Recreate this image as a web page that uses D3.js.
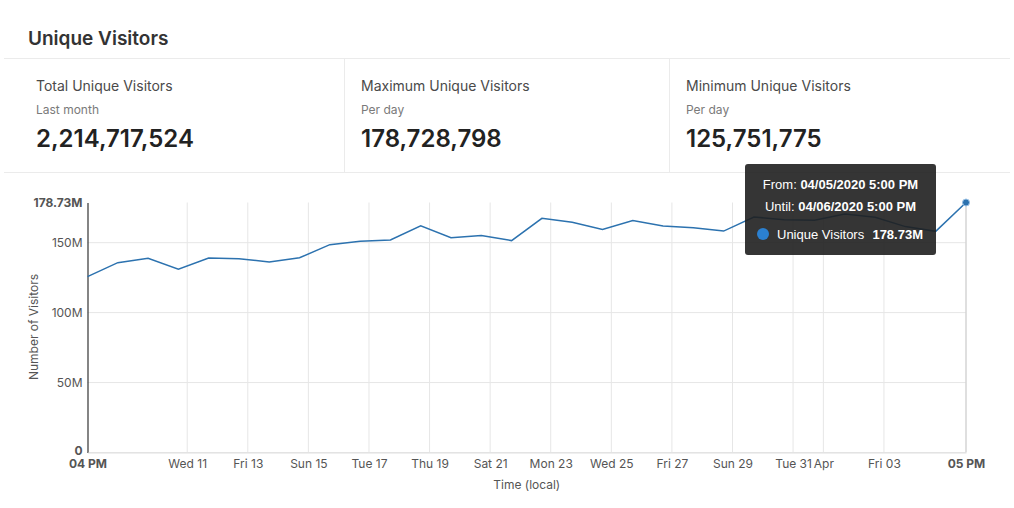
<!DOCTYPE html>
<html>
<head>
<meta charset="utf-8">
<script src="https://cdn.jsdelivr.net/npm/d3@7"></script>
<style>
  body { margin: 0; background: #fff; }
  svg { display: block; font-family: Inter, "Noto Sans", sans-serif; }
</style>
</head>
<body>
<svg></svg>
<script>
// --------------- data
// one bucket per day, each bucket starts at 5 PM local (00:00 UTC)
const days = [
  '2020-03-08', '2020-03-09', '2020-03-10', '2020-03-11', '2020-03-12',
  '2020-03-13', '2020-03-14', '2020-03-15', '2020-03-16', '2020-03-17',
  '2020-03-18', '2020-03-19', '2020-03-20', '2020-03-21', '2020-03-22',
  '2020-03-23', '2020-03-24', '2020-03-25', '2020-03-26', '2020-03-27',
  '2020-03-28', '2020-03-29', '2020-03-30', '2020-03-31', '2020-04-01',
  '2020-04-02', '2020-04-03', '2020-04-04', '2020-04-05', '2020-04-06'
];

// millions of unique visitors
const visitors = [
  125.751775, 135.7, 138.8, 131.1, 139.0, 138.6, 136.2, 139.2, 148.6, 151.1,
  152.0, 162.0, 153.6, 155.1, 151.5, 167.4, 164.6, 159.5, 165.9, 161.9,
  160.7, 158.3, 168.4, 166.4, 166.0, 170.5, 168.2, 161.5, 158.1, 178.728798
];

const tickTimes = [
  '2020-03-08T00:00:00Z', '2020-03-11T07:00:00Z', '2020-03-13T07:00:00Z',
  '2020-03-15T07:00:00Z', '2020-03-17T07:00:00Z', '2020-03-19T07:00:00Z',
  '2020-03-21T07:00:00Z', '2020-03-23T07:00:00Z', '2020-03-25T07:00:00Z',
  '2020-03-27T07:00:00Z', '2020-03-29T07:00:00Z', '2020-03-31T07:00:00Z',
  '2020-04-01T07:00:00Z', '2020-04-03T07:00:00Z', '2020-04-06T00:00:00Z'
];
const tickLabels = [
  '04 PM', 'Wed 11', 'Fri 13', 'Sun 15', 'Tue 17', 'Thu 19', 'Sat 21',
  'Mon 23', 'Wed 25', 'Fri 27', 'Sun 29', 'Tue 31', 'Apr', 'Fri 03', '05 PM'
];

const yTicks = [0, 50, 100, 150, 178.728798];

const statTitles = ['Total Unique Visitors', 'Maximum Unique Visitors', 'Minimum Unique Visitors'];
const statSubtitles = ['Last month', 'Per day', 'Per day'];
const statValues = [2214717524, 178728798, 125751775];

// --------------- setup
const width = 1014;
const height = 508;
const blue = '#2c72af';

const svg = d3.select('svg')
  .attr('width', width)
  .attr('height', height);

// header
svg.append('text')
  .attr('x', 28)
  .attr('y', 45)
  .attr('font-size', 19)
  .attr('font-weight', 600)
  .attr('fill', '#333')
  .text('Unique Visitors');

const statX = [4, 344.5, 669.5];

svg.append('g')
  .selectAll('line')
  .data([58.5, 172.5])
  .enter()
  .append('line')
  .attr('x1', 4)
  .attr('x2', 1010)
  .attr('y1', d => d)
  .attr('y2', d => d)
  .attr('stroke', '#ebebeb');

svg.append('g')
  .selectAll('line')
  .data(statX.slice(1))
  .enter()
  .append('line')
  .attr('x1', d => d)
  .attr('x2', d => d)
  .attr('y1', 58.5)
  .attr('y2', 172.5)
  .attr('stroke', '#ebebeb');

const stats = svg.append('g')
  .selectAll('g')
  .data(statTitles)
  .enter()
  .append('g')
  .attr('transform', (d, i) => 'translate(' + (statX[i] + (i === 0 ? 32 : 16.5)) + ', 0)');

stats.append('text')
  .attr('y', 91)
  .attr('font-size', 14)
  .attr('fill', '#4a4a4a')
  .text(d => d);

stats.append('text')
  .attr('y', 114)
  .attr('font-size', 12)
  .attr('fill', '#7a7a7a')
  .text((d, i) => statSubtitles[i]);

stats.append('text')
  .attr('y', 147)
  .attr('font-size', 24)
  .attr('font-weight', 600)
  .attr('fill', '#222')
  .text((d, i) => d3.format(',')(statValues[i]));

// --------------- chart
const parseDay = d3.utcParse('%Y-%m-%d');
const points = days.map((d, i) => ({ date: parseDay(d), value: visitors[i] * 1e6 }));

const plotLeft = 87.5;
const plotRight = 966;
const plotTop = 202.5;
const plotBottom = 452.5;

const xScale = d3.scaleUtc()
  .domain(d3.extent(points, d => d.date))
  .range([plotLeft, plotRight]);

const yScale = d3.scaleLinear()
  .domain([0, d3.max(points, d => d.value)])
  .range([plotBottom, plotTop]);

const ticks = tickTimes.map(t => new Date(t));

// vertical grid
svg.append('g')
  .selectAll('line')
  .data(ticks.slice(1, -1))
  .enter()
  .append('line')
  .attr('x1', d => xScale(d))
  .attr('x2', d => xScale(d))
  .attr('y1', plotTop)
  .attr('y2', plotBottom)
  .attr('stroke', '#e6e6e6');

// horizontal grid
svg.append('g')
  .selectAll('line')
  .data(yTicks.slice(0, -1))
  .enter()
  .append('line')
  .attr('x1', plotLeft)
  .attr('x2', plotRight)
  .attr('y1', d => yScale(d * 1e6))
  .attr('y2', d => yScale(d * 1e6))
  .attr('stroke', '#e6e6e6');

// hover line
const last = points[points.length - 1];
svg.append('line')
  .attr('x1', xScale(last.date))
  .attr('x2', xScale(last.date))
  .attr('y1', plotTop)
  .attr('y2', plotBottom)
  .attr('stroke', '#d4d4d4')
  .attr('stroke-width', 1.5);

// axes
const fmtM = d => d === 0 ? '0' : d3.format('.5~')(d) + 'M';

const yAxis = svg.append('g')
  .attr('transform', 'translate(' + plotLeft + ', 0)')
  .call(d3.axisLeft(yScale)
    .tickValues(yTicks.map(d => d * 1e6))
    .tickFormat((d, i) => i === yTicks.length - 1 ? d3.format('.2f')(yTicks[i]) + 'M' : fmtM(yTicks[i]))
    .tickSize(0)
    .tickPadding(5));

yAxis.select('.domain').attr('stroke', '#333').attr('stroke-width', 1.2);
yAxis.selectAll('text')
  .attr('font-family', 'Inter, sans-serif')
  .attr('font-size', 12)
  .attr('fill', '#555')
  .attr('font-weight', (d, i) => i === 0 || i === yTicks.length - 1 ? 700 : 400);

// keep the "0" clear of the first time label
yAxis.selectAll('text')
  .filter((d, i) => i === 0)
  .attr('y', -2);

const xAxis = svg.append('g')
  .attr('transform', 'translate(0, ' + plotBottom + ')')
  .call(d3.axisBottom(xScale)
    .tickValues(ticks)
    .tickFormat((d, i) => tickLabels[i])
    .tickSize(0)
    .tickPadding(7));

xAxis.select('.domain').attr('stroke', '#e0e0e0');
xAxis.selectAll('text')
  .attr('font-family', 'Inter, sans-serif')
  .attr('font-size', 12)
  .attr('fill', '#555')
  .attr('font-weight', (d, i) => i === 0 || i === tickLabels.length - 1 ? 700 : 400);

// axis titles
svg.append('text')
  .attr('transform', 'translate(38, 327) rotate(-90)')
  .attr('text-anchor', 'middle')
  .attr('font-size', 12)
  .attr('fill', '#555')
  .text('Number of Visitors');

svg.append('text')
  .attr('x', (plotLeft + plotRight) / 2)
  .attr('y', 489)
  .attr('text-anchor', 'middle')
  .attr('font-size', 12)
  .attr('fill', '#555')
  .text('Time (local)');

// line
const line = d3.line()
  .x(d => xScale(d.date))
  .y(d => yScale(d.value));

svg.append('path')
  .datum(points)
  .attr('d', line)
  .attr('fill', 'none')
  .attr('stroke', blue)
  .attr('stroke-width', 1.5);

svg.append('circle')
  .attr('cx', xScale(last.date))
  .attr('cy', yScale(last.value))
  .attr('r', 3.5)
  .attr('fill', blue)
  .attr('stroke', '#9cc3e6')
  .attr('stroke-width', 1);

// tooltip
const tip = svg.append('g')
  .attr('font-family', '"Liberation Sans", Arial, sans-serif')
  .attr('font-size', 13)
  .attr('fill', '#fff');

tip.append('rect')
  .attr('x', 745)
  .attr('y', 164)
  .attr('width', 191)
  .attr('height', 91)
  .attr('rx', 3)
  .attr('fill', '#1f1f1f')
  .attr('opacity', 0.9);

const tipRows = [['From: ', '04/05/2020 5:00 PM', 189], ['Until: ', '04/06/2020 5:00 PM', 211]];
tipRows.forEach(r => {
  const t = tip.append('text')
    .attr('x', 840.5)
    .attr('y', r[2])
    .attr('text-anchor', 'middle');
  t.append('tspan').text(r[0]);
  t.append('tspan').attr('font-weight', 700).text(r[1]);
});

tip.append('circle')
  .attr('cx', 763)
  .attr('cy', 234)
  .attr('r', 6)
  .attr('fill', '#2b80d0');

tip.append('text')
  .attr('x', 777)
  .attr('y', 239)
  .text('Unique Visitors');

tip.append('text')
  .attr('x', 923)
  .attr('y', 239)
  .attr('text-anchor', 'end')
  .attr('font-weight', 700)
  .text(d3.format('.2f')(last.value / 1e6) + 'M');
</script>
</body>
</html>
